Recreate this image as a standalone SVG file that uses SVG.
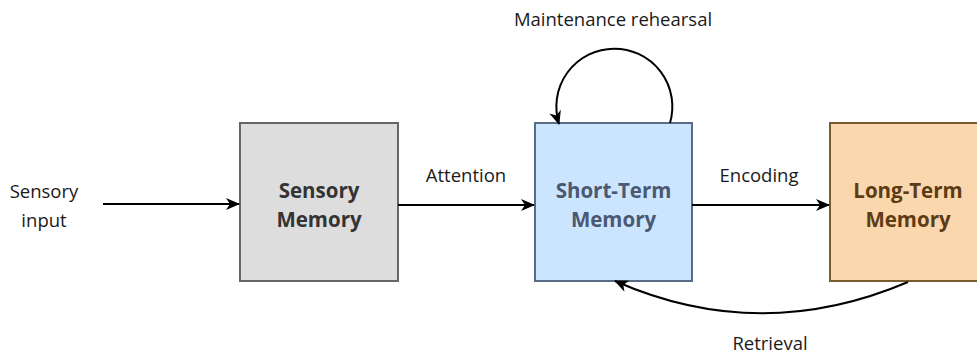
<svg xmlns="http://www.w3.org/2000/svg" width="977" height="355" viewBox="0 0 977 355">
<style>
.lbl{font-family:"Open Sans","Liberation Sans",sans-serif;font-size:18.5px;fill:#1a1a1a;text-anchor:middle}
.node{font-family:"Open Sans","Liberation Sans",sans-serif;font-size:20.5px;font-weight:bold;text-anchor:middle}
.edge{fill:none;stroke:#000;stroke-width:2;marker-end:url(#arr)}
</style>
<defs>
<marker id="arr" viewBox="0 0 14 12" refX="13" refY="6" markerWidth="14" markerHeight="12" markerUnits="userSpaceOnUse" orient="auto">
<path d="M0,0 L14,6 L0,12 L4,6 Z" fill="#000"/>
</marker>
</defs>
<rect width="977" height="355" fill="#fff"/>
<g id="sensory-memory">
<rect x="240" y="123" width="158" height="158" fill="#dddddd" stroke="#666666" stroke-width="2"/>
<text class="node" fill="#333333" x="319" y="198">Sensory</text>
<text class="node" fill="#333333" x="319" y="227">Memory</text>
</g>
<g id="short-term-memory">
<rect x="535" y="123" width="157" height="158" fill="#cce5ff" stroke="#5a6b85" stroke-width="2"/>
<text class="node" fill="#4a5872" x="613.5" y="198">Short-Term</text>
<text class="node" fill="#4a5872" x="613.5" y="227">Memory</text>
</g>
<g id="long-term-memory">
<rect x="830" y="123" width="158" height="158" fill="#fad7ac" stroke="#7a5a30" stroke-width="2"/>
<text class="node" fill="#5c3c14" x="908" y="198">Long-Term</text>
<text class="node" fill="#5c3c14" x="908" y="227">Memory</text>
</g>
<g id="connectors">
<path class="edge" d="M103,204 L239,204"/>
<path class="edge" d="M398,205 L534,205"/>
<path class="edge" d="M692,205 L829,205"/>
<path class="edge" d="M670,123 A58,58 0 1 0 559,124"/>
<path class="edge" d="M908,282 Q760,345 615,281"/>
</g>
<g id="labels">
<text class="lbl" x="44" y="198">Sensory</text>
<text class="lbl" x="44" y="227">input</text>
<text class="lbl" x="466" y="182">Attention</text>
<text class="lbl" x="759" y="182">Encoding</text>
<text class="lbl" x="613" y="26">Maintenance rehearsal</text>
<text class="lbl" x="770" y="350">Retrieval</text>
</g>
</svg>
